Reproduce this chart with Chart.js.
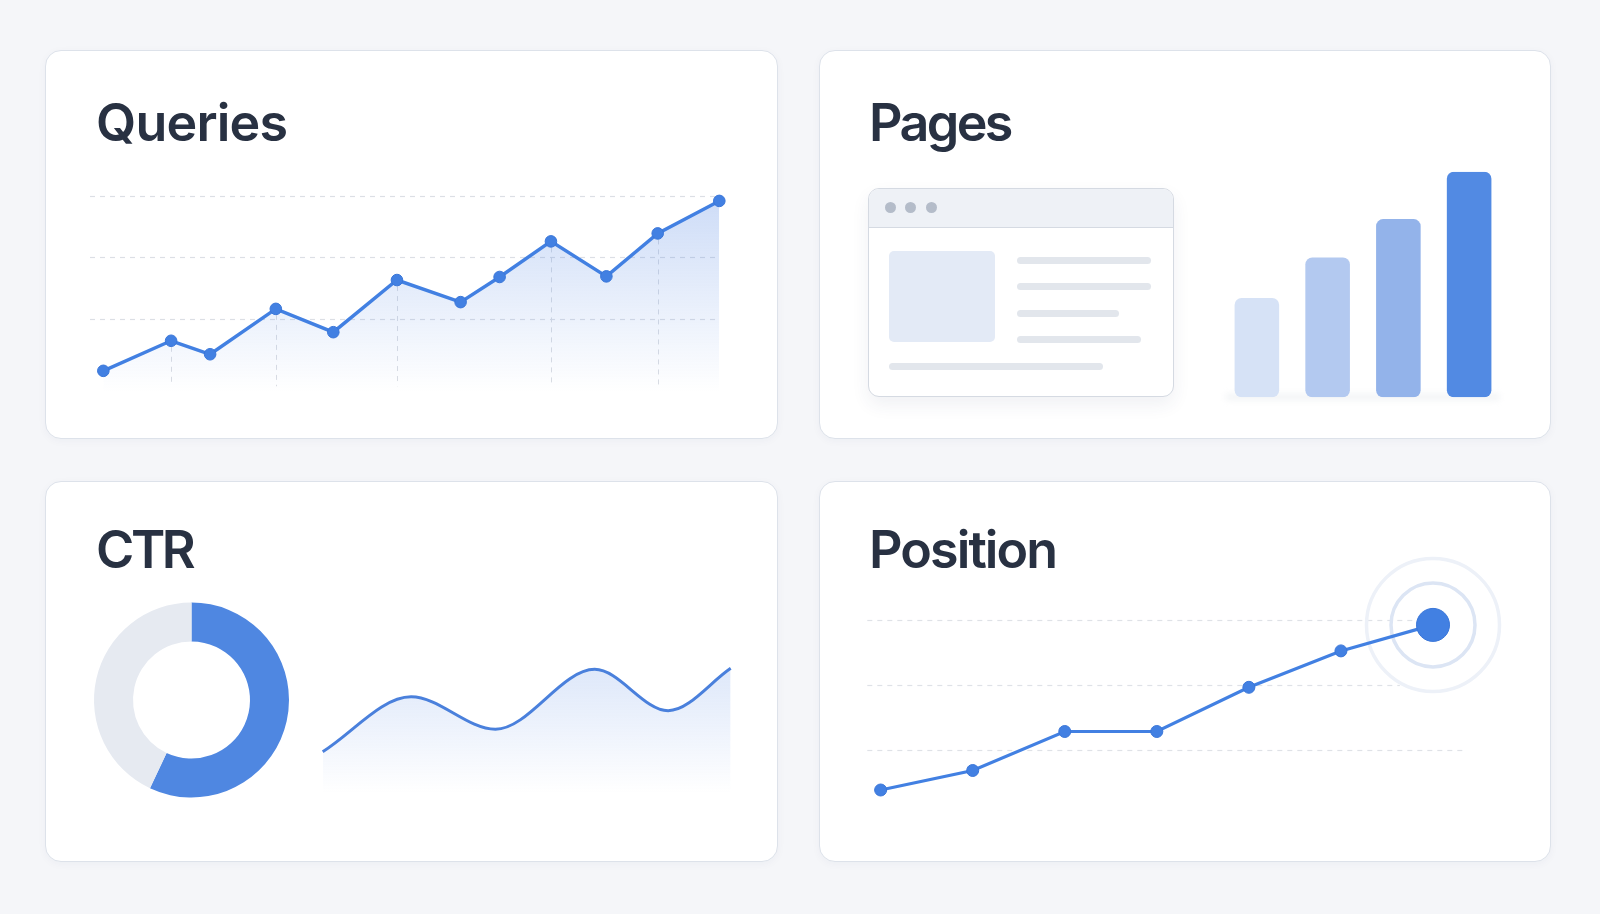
<!DOCTYPE html>
<html><head><meta charset="utf-8">
<script src="https://cdn.jsdelivr.net/npm/chart.js@4.4.1/dist/chart.umd.min.js"></script>
<style>
html,body{margin:0;padding:0;width:1600px;height:914px;overflow:hidden;background:#f5f6f9;font-family:Inter,"Noto Sans",sans-serif;}
.card{position:absolute;background:#fff;border:1.5px solid #dde2ea;border-radius:16px;box-sizing:border-box;box-shadow:0 2px 8px rgba(30,50,90,0.04);}
.title{position:absolute;font-weight:600;font-size:52px;line-height:52px;color:#283142;white-space:nowrap;z-index:3;}
canvas{position:absolute;left:0;top:0;z-index:2;}
.abs{position:absolute;box-sizing:border-box;}
.bline{position:absolute;height:7px;border-radius:4px;background:#e2e6ec;}
.dot{position:absolute;width:11px;height:11px;border-radius:50%;background:#b4bcc9;}
</style></head>
<body>
<div class="card" style="left:45px;top:50px;width:733px;height:389px"></div>
<div class="card" style="left:819px;top:50px;width:732px;height:389px"></div>
<div class="card" style="left:45px;top:481px;width:733px;height:381px"></div>
<div class="card" style="left:819px;top:481px;width:732px;height:381px"></div>

<div class="title" id="t1" style="left:96px;top:97px;letter-spacing:-0.8px">Queries</div>
<div class="title" id="t2" style="left:869px;top:97px;letter-spacing:-2.6px">Pages</div>
<div class="title" id="t3" style="left:96px;top:524px;letter-spacing:-3.4px">CTR</div>
<div class="title" id="t4" style="left:869px;top:524px;letter-spacing:-1.9px">Position</div>

<!-- browser mockup illustration -->
<div class="abs" style="left:868px;top:188px;width:306px;height:209px;border:1.5px solid #d5dae2;border-radius:11px;background:#fff;box-shadow:0 8px 18px rgba(40,60,100,0.07);overflow:hidden;z-index:1">
  <div class="abs" style="left:0;top:0;width:100%;height:39px;background:#eef1f6;border-bottom:1.5px solid #d5dae2"></div>
</div>
<div class="dot" style="left:885px;top:202px;z-index:2"></div>
<div class="dot" style="left:905px;top:202px;z-index:2"></div>
<div class="dot" style="left:926px;top:202px;z-index:2"></div>
<div class="abs" style="left:889px;top:251px;width:106px;height:91px;background:#e3eaf6;border-radius:5px;z-index:2"></div>
<div class="bline" style="left:1017px;top:257px;width:134px;z-index:2"></div>
<div class="bline" style="left:1017px;top:283px;width:134px;z-index:2"></div>
<div class="bline" style="left:1017px;top:310px;width:102px;z-index:2"></div>
<div class="bline" style="left:1017px;top:336px;width:124px;z-index:2"></div>
<div class="bline" style="left:889px;top:363px;width:214px;z-index:2"></div>
<div class="abs" style="left:1225px;top:394px;width:275px;height:6px;border-radius:3px;background:rgba(200,206,216,0.25);filter:blur(3px);z-index:1"></div>

<canvas id="cQueries" width="1600" height="914"></canvas>
<canvas id="cPages" width="1600" height="914"></canvas>
<canvas id="cCtr" width="1600" height="914"></canvas>
<canvas id="cWave" width="1600" height="914"></canvas>
<canvas id="cPos" width="1600" height="914"></canvas>

<script>
// ---------- DATA ----------
const queryDays   = [0, 3.3, 5.2, 8.4, 11.2, 14.3, 17.4, 19.3, 21.8, 24.5, 27, 30];
const queryValues = [15, 64, 42, 116, 78, 163, 127, 168, 226, 169, 239, 292];
const queryGridTicks = [100, 200, 300];
const queryDropIndex = [1, 3, 5, 8, 10];

const pageLabels = ['Week 1', 'Week 2', 'Week 3', 'Week 4'];
const pageValues = [44, 62, 79, 100];

const ctrLabels = ['Clicked', 'Not clicked'];
const ctrValues = [57, 43];

const ctrTrendDays   = [0, 6.5, 12.7, 20.0, 25.4, 30];
const ctrTrendValues = [3.16, 4.70, 3.79, 5.47, 4.31, 5.50];

const positionWeeks  = [1, 2, 3, 4, 5, 6, 7];
const positionValues = [18.1, 16.6, 13.6, 13.6, 10.2, 7.4, 5.4];
const positionGridTicks = [5, 10, 15];

// ---------- STYLE ----------
const W = 1600, H = 914;
const BLUE = '#4280e2';
const pad = (l, t, r, b) => ({left: l, top: t, right: W - r, bottom: H - b});
const hidden = {display: false};
Chart.defaults.animation = false;
Chart.defaults.events = [];
Chart.defaults.responsive = false;
Chart.defaults.plugins.legend.display = false;
Chart.defaults.plugins.tooltip.enabled = false;

function grad(alphaTop) {
  return (c) => {
    const {ctx, chartArea} = c.chart;
    if (!chartArea) return 'rgba(0,0,0,0)';
    const g = ctx.createLinearGradient(0, chartArea.top, 0, chartArea.bottom);
    g.addColorStop(0, 'rgba(70,125,225,' + alphaTop + ')');
    g.addColorStop(1, 'rgba(70,125,225,0)');
    return g;
  };
}

function dashGrid(cfg) {
  return {
    id: 'dashGrid',
    beforeDatasetsDraw(chart) {
      const {ctx, chartArea, scales} = chart;
      const x = scales.x, y = scales.y;
      ctx.save();
      ctx.setLineDash([5, 5]);
      ctx.lineWidth = 1.2;
      ctx.strokeStyle = cfg.color;
      cfg.values.forEach((v, i) => {
        const py = Math.round(y.getPixelForValue(v)) + 0.5;
        const x1 = cfg.ends ? x.getPixelForValue(cfg.ends[i]) : chartArea.right;
        ctx.beginPath(); ctx.moveTo(chartArea.left, py); ctx.lineTo(x1, py); ctx.stroke();
      });
      if (cfg.drops) {
        ctx.strokeStyle = cfg.dropColor;
        ctx.lineWidth = 1;
        const meta = chart.getDatasetMeta(0);
        cfg.drops.forEach(i => {
          const p = meta.data[i];
          const px = Math.round(p.x) + 0.5;
          ctx.beginPath(); ctx.moveTo(px, p.y + 6); ctx.lineTo(px, y.getPixelForValue(cfg.dropTo)); ctx.stroke();
        });
      }
      if (cfg.rings) {
        const meta = chart.getDatasetMeta(0);
        const p = meta.data[meta.data.length - 1];
        ctx.setLineDash([]);
        cfg.rings.forEach(r => {
          ctx.beginPath(); ctx.arc(p.x, p.y, r.radius, 0, Math.PI * 2);
          ctx.lineWidth = r.width; ctx.strokeStyle = r.color; ctx.stroke();
        });
      }
      ctx.restore();
    }
  };
}

// ---------- QUERIES ----------
new Chart(document.getElementById('cQueries'), {
  type: 'line',
  data: {datasets: [{
    data: queryDays.map((d, i) => ({x: d, y: queryValues[i]})),
    borderColor: BLUE, borderWidth: 3.4, tension: 0,
    pointRadius: 5.8, pointBackgroundColor: BLUE, pointBorderColor: '#3a76d8', pointBorderWidth: 1,
    fill: 'start', backgroundColor: grad(0.27), clip: false
  }]},
  options: {
    layout: {padding: pad(90, 196, 719.3, 392.3)},
    scales: {
      x: {type: 'linear', min: -0.65, max: 30, display: false},
      y: {min: -20, max: 300, display: false}
    }
  },
  plugins: [dashGrid({values: queryGridTicks, color: '#dcdfe5', drops: queryDropIndex, dropColor: '#dadde3', dropTo: -10})]
});

// ---------- PAGES ----------
new Chart(document.getElementById('cPages'), {
  type: 'bar',
  data: {labels: pageLabels, datasets: [{
    data: pageValues,
    backgroundColor: ['#d6e2f6', '#b3c9f0', '#93b3ea', '#528ae3'],
    borderRadius: 7, borderSkipped: false,
    barPercentage: 0.63, categoryPercentage: 1
  }]},
  options: {
    layout: {padding: pad(1221.5, 171.7, 1504.5, 397.3)},
    scales: {x: hidden, y: {min: 0, max: 100, display: false}}
  }
});

// ---------- CTR doughnut ----------
new Chart(document.getElementById('cCtr'), {
  type: 'doughnut',
  data: {labels: ctrLabels, datasets: [{
    data: ctrValues,
    backgroundColor: ['#4f87e1', '#e6eaf1'],
    borderWidth: 0
  }]},
  options: {
    cutout: '60%',
    layout: {padding: pad(94, 602.5, 289, 797.5)}
  }
});

// ---------- CTR trend ----------
new Chart(document.getElementById('cWave'), {
  type: 'line',
  data: {datasets: [{
    data: ctrTrendDays.map((d, i) => ({x: d, y: ctrTrendValues[i]})),
    borderColor: '#4a80dc', borderWidth: 3, cubicInterpolationMode: 'monotone',
    pointRadius: 0, fill: 'start', backgroundColor: grad(0.18), clip: false
  }]},
  options: {
    layout: {padding: pad(322.7, 668.3, 730.7, 793)},
    scales: {
      x: {type: 'linear', min: 0, max: 30, display: false},
      y: {min: 2.0, max: 5.5, display: false}
    }
  }
});

// ---------- POSITION ----------
new Chart(document.getElementById('cPos'), {
  type: 'line',
  data: {datasets: [{
    data: positionWeeks.map((w, i) => ({x: w, y: positionValues[i]})),
    borderColor: BLUE, borderWidth: 3.2, tension: 0,
    pointRadius: positionValues.map((v, i) => i === positionValues.length - 1 ? 16.5 : 6),
    pointBackgroundColor: BLUE, pointBorderColor: '#3a76d8', pointBorderWidth: 1,
    fill: false, clip: false
  }]},
  options: {
    layout: {padding: pad(867.3, 593.7, 1464.3, 814.7)},
    scales: {
      x: {type: 'linear', min: 0.855, max: 7.34, display: false},
      y: {min: 3, max: 20, reverse: true, display: false}
    }
  },
  plugins: [dashGrid({values: positionGridTicks, ends: [7.0, 6.64, 7.34], color: '#dfe2e7',
    rings: [{radius: 66.5, width: 3.5, color: '#edf1f8'}, {radius: 42, width: 3.5, color: '#dce5f4'}]})]
});
</script>
</body></html>
